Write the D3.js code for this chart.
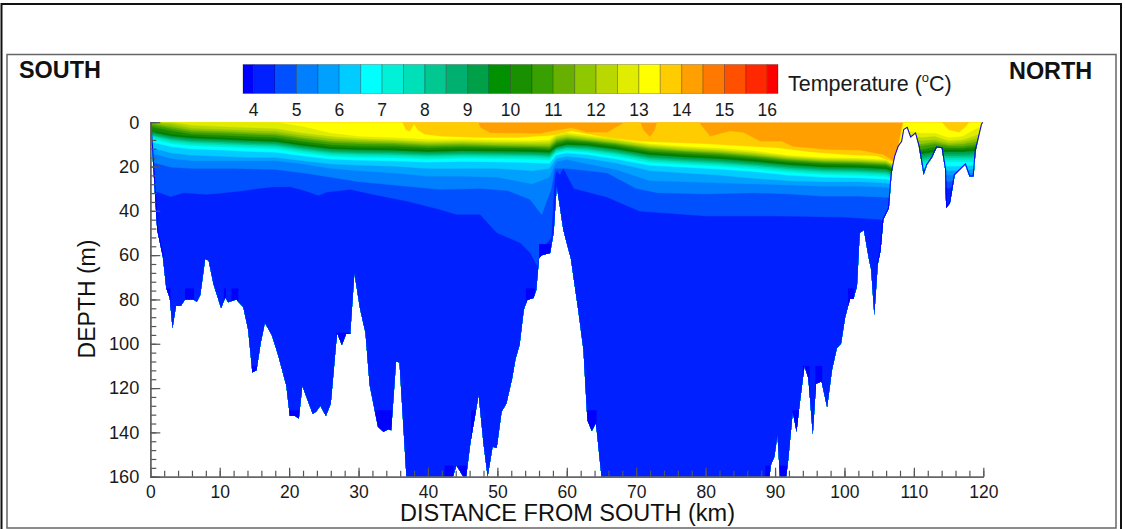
<!DOCTYPE html>
<html>
<head>
<meta charset="utf-8">
<script src="https://cdn.jsdelivr.net/npm/d3@7"></script>
<style>
body { margin: 0; background: #fff; }
svg { display: block; font-family: "Liberation Sans", Arial, sans-serif; }
</style>
</head>
<body>
<svg width="1125" height="529"></svg>
<script>
// section stations (km from south)
var stations = [0,3,6,10,14,18,22,26,30,35,40,45,50,55,57.5,58.5,60,63,67,72,77,82,87,92,97,102,106,107.5,109,111,113,115,117,119,120];

// the warm and deep isotherms wiggle more, so they get their own stations
var iso14Km = [0,47.2,47.6,49,53,56.1,58.5,60.7,62.9,65.8,68.2,69.1,70.6,71,72,72.7,73,79,80.65,83.5,85.5,87.9,91,92.5,97.5,102.3,105.6,107.3,108.4,120];
var iso14   = [0,0,2.6,4.9,5,5.2,3.7,2.6,4.6,4.6,0.4,0,0,3.5,6.7,3.5,0,0,6.4,4.1,4.8,8.7,8.7,11,12.4,12.8,14.7,18,0,0];
var iso135Km = [0,36.3,36.8,37.4,38,38.5,39.5,42,47,53,58,60.7,65.8,70.5,80,85,90.3,95,99.9,104.7,107.3,108.5,114,115,116.5,117.5,118,120];
var iso135   = [0,0,3.5,4.2,1,3.5,5.5,6.5,7,7,6,4.1,7,8.7,9.8,10.7,11.7,13.5,14.7,15.4,18.5,0,0,3.5,4.6,2,0,0];

var iso13  = [0,0,0,0,0,0,2,5,6.5,7,7.8,7.8,8.2,8.4,8,5.5,4.8,6,7.5,9.8,11,11.8,13,15,16,16.3,16.9,19.5,4,5,5,7,6.5,3,2];
var iso125 = [0,0,1.5,2,2.5,3,5,6.5,7.5,8,8.8,8.6,9,9.2,9,6.5,5.7,6.8,8.2,10.5,11.7,12.5,13.8,15.6,16.6,16.9,17.5,20,5,7,6.5,8.5,8,6,5];
var iso12  = [0,0.8,2.8,3.3,3.8,4.2,6,7.5,8.3,8.7,9.5,9.3,9.7,9.9,10,7.4,6.5,7.5,8.9,11.2,12.4,13.2,14.5,16.2,17.2,17.5,18.1,20.5,6.5,8.5,8,9.5,9,7.5,6];
var iso115 = [0.5,2,3.8,4.2,4.8,5.2,7,8.5,9,9.4,10.2,10,10.4,10.6,10.8,8.1,7.2,8.1,9.5,11.8,13,13.8,15.1,16.7,17.7,18,18.6,21,8,10,9,10.3,10,8.8,7.5];
var iso11  = [1,3,4.6,5,5.6,6,7.8,9.3,9.8,10.1,10.9,10.6,11,11.2,11.4,8.8,7.8,8.6,10,12.4,13.5,14.3,15.6,17.2,18.2,18.5,19.1,21.4,9.5,11,10,11,11,10,9];
var iso105 = [2,4,5.5,6,6.6,7,8.8,10.3,10.8,11,11.7,11.3,11.6,11.8,12.2,9.6,8.5,9.2,10.6,13.2,14.2,15,16.3,17.8,18.8,19.1,19.7,21.8,11,12.5,11.3,11.8,11.8,11,10];
var iso10  = [3.5,5.5,6.5,7,7.6,8,9.8,11.3,11.8,12,12.6,12.2,12.4,12.6,13,10.5,9.4,9.9,11.4,14,15,15.8,17,18.5,19.5,19.8,20.4,22.3,12,13.5,12.5,12.5,12.5,12,11];
var iso95  = [4.3,6.3,7.3,7.8,8.4,8.8,10.6,12.1,12.6,12.8,13.4,13,13.2,13.4,13.8,11.3,10.2,10.6,12.2,14.8,15.8,16.6,17.8,19.3,20.3,20.6,21.2,23,13,14.5,13.5,13.5,13.5,13,12];
var iso9   = [5,7,8,8.5,9.1,9.5,11.3,12.8,13.3,13.5,14.1,13.7,13.9,14.1,14.5,11.8,10.8,11.2,12.8,15.6,16.6,17.4,18.6,20,21,21.3,21.9,23.6,14,15.5,14.5,14.5,14.5,14,13];
var iso85  = [5.5,7.6,8.6,9.1,9.7,10.1,11.9,13.4,13.9,14.1,14.7,14.3,14.5,14.7,15.1,12.3,11.3,11.8,13.4,16.2,17.2,18,19.2,20.6,21.6,21.9,22.5,24.1,15,16.5,15.3,15.3,15.3,15,14];
var iso8   = [6,8.2,9.2,9.7,10.3,10.7,12.5,14,14.5,14.7,15.3,14.9,15.1,15.3,15.7,12.8,11.8,12.4,14,16.8,17.8,18.6,19.8,21.2,22.2,22.5,23.1,24.7,16,17.5,16,16,16,16,15];
var iso75  = [6.6,8.9,9.9,10.4,11,11.4,13.2,14.7,15.2,15.4,16,15.6,15.8,16,16.4,13.3,12.4,13,14.7,17.5,18.5,19.3,20.5,21.9,22.9,23.2,23.8,25.3,17,18.5,17,17,17,17,16];
var iso7   = [7.4,9.7,10.7,11.2,11.8,12.2,14,15.5,16,16.2,16.8,16.4,16.6,16.8,17.2,13.9,13,13.7,15.5,18.3,19.2,20,21.2,22.7,23.7,24,24.6,26,18,19.5,18,18,18,18,17];
var iso65  = [9,11.2,12.2,12.7,13.3,13.7,15.4,16.8,17.3,17.6,18.2,17.9,18.1,18.4,18.8,15,14,14.8,16.7,19.6,20.5,21.3,22.5,24,25,25.3,25.9,27.3,20,21,19.5,20,20,19.5,19];
var iso6   = [11.5,14,15,15.5,16,16,17.5,19,19.5,20,21,21,21,22,21,16.5,15.5,16.5,18.5,22,23,24,25.5,26.5,27,27,27.5,29,22,22.5,21,22,22,21,21];
var iso55  = [14,16.5,17.5,17.5,17.5,17.5,19,21,22,23,24.5,24.5,25,28,25,18,17,19,21.5,26.5,27,27.5,28,28.5,29,29,29.5,31,24,24,23,24,23.5,23,23];
var iso5Km = [0,3,6,12,18,22,26,30,35,41.7,47.5,51.5,54.7,56.4,57.8,58.3,60,63,65.8,70,73,80,87,92,97,102,106,107.5,109,111,113,115,117,119,120];
var iso5   = [18,20.5,21,21,21.5,23,25,27,28.5,30.5,30,31,35,42,30,21,21,22,23,30,32,32.5,32,32.5,33.5,33.5,34,35,26,25,25,27,25,25,25];
var iso45Km = [0,1.4,2.9,4.8,8.1,12.9,15.3,17.7,20.1,22.5,24.2,25.4,28.8,32.1,37,41.7,44.1,47.5,49.9,53.3,54.7,55.7,56.4,57.8,58.3,58.55,59,59.5,61,65.8,70.5,80,90,100,105,107.5,109,111,113,115,117,119,120];
var iso45   = [31,32,33.8,32,32.8,31.3,30.2,29.4,29.3,31.3,33.2,31.7,30.5,32.8,35.8,39.5,41.8,41.8,50,54.6,59,65,57.6,52,25,22,24,21,30,34,40.3,42.5,42.5,43,44,46,30,27,27,30,27,27,27];

var isotherms = [iso14,iso135,iso13,iso125,iso12,iso115,iso11,iso105,iso10,iso95,iso9,iso85,iso8,iso75,iso7,iso65,iso6,iso55,iso5,iso45];
var isoStations = [iso14Km,iso135Km,stations,stations,stations,stations,stations,stations,stations,stations,stations,stations,stations,stations,stations,stations,stations,stations,iso5Km,iso45Km];

// colour of each band, warm to cold, first one is the surface fill
var surfaceColor = '#ffa000';
var isoColors = ['#ffcc00','#ffff00','#e0ec00','#b8d800','#90c800','#68b000','#38a000','#188800','#007e00','#00a048','#00b070','#00c890','#00e0b8','#00f0d8','#00ffff','#00ccff','#00a0ff','#0080ff','#0050ff','#0020ff'];
var coldColor = '#0000ff';

// legend
var legendEdges = [3.75,4,4.5,5,5.5,6,6.5,7,7.5,8,8.5,9,9.5,10,10.5,11,11.5,12,12.5,13,13.5,14,14.5,15,15.5,16,16.25];
var legendColors = ['#0000ff','#0020ff','#0050ff','#0080ff','#00a0ff','#00ccff','#00ffff','#00f0d8','#00e0b8','#00c890','#00b070','#00a048','#009000','#189000','#38a000','#68b000','#90c800','#b8d800','#e0ec00','#ffff00','#ffcc00','#ffa000','#ff7800','#ff5000','#ff2800','#ff0000'];
var legendTicks = [4,5,6,7,8,9,10,11,12,13,14,15,16];

// sea floor
var bottomKm = [0,0.1,1,1.8,2.3,2.8,3.2,3.7,4.4,5,6.2,6.7,7.2,7.9,8.4,9.1,10.2,10.8,11.2,12.4,13.4,14.1,14.7,15.3,15.9,16.5,17.5,18.4,19.6,20.1,20.8,21.4,21.9,23.4,23.9,24.5,25.3,26,26.9,27.6,28.2,28.8,29.4,30.2,31,31.6,32.8,33.6,34.3,34.7,35.4,35.9,36.9,43.6,44.1,45.1,45.5,46.1,47.3,48,48.6,49.3,49.9,50.6,51.3,52.1,52.6,53.2,53.8,54.3,55.2,55.6,56,56.4,57.6,58.1,58.55,59.5,60.6,61.7,62.4,62.9,63,63.6,64.2,65,89.2,89.4,89.9,90.35,90.7,91.6,91.9,92.55,93.1,93.5,94.24,94.8,95.44,95.9,96.7,97.5,98.2,98.9,99.5,100.1,100.8,101.3,101.8,102.2,102.8,103.5,103.85,104.3,104.8,105.2,105.6,106.4,106.8,107.3,107.8,108.3,108.6,109,109.5,110.2,110.7,111.4,111.9,112.6,113.3,114,114.5,114.65,115.2,115.9,117.4,118,118.6,118.9,119.8,120];
var bottomDepth = [0,4,48.6,60.6,75,79.4,93,83,83,80,80,81,78,61.7,62.4,73,84,79,81.3,80,83.5,93.7,113,112,99.8,90.5,96,105,119,132.6,132.5,133.7,119,131.7,130.6,128,132.6,127,95,100.6,95.6,95.6,68,84,95,118.6,137.4,139.7,138.6,139,108,108.5,160,160,154.8,160,160,145,123,145,160,146.5,147,130.7,127,116,107,100.5,84.7,80.2,79.4,75.7,61.4,60,59,50,28.7,48.6,61.8,86,102.8,130.7,134.7,139.4,135.7,160,160,154.7,151,141,160,160,152.4,130.7,139.7,128.4,110,115.6,141,118,117,128.7,111.8,102,100,88,79.8,79.8,74,50,48.6,61.4,66.6,87,64,58,44,38.8,23,15.4,11,8.7,3.4,2.6,7,5.2,11,23.7,19.2,16,11.4,11.7,21.4,38.8,36.5,23.7,19.2,24.5,24.5,13,1,0];

// pockets colder than 4 C near the floor
var coldStart = [2.2,5,10.6,11.7,14.6,19.5,26.8,32.2,46.2,54.1,56,62.8,42.4,44,88.6,90.6,92.5,94,95.8,100.5];
var coldEnd   = [2.9,6.3,10.9,12.7,15.4,21.5,28.9,34.9,47,55.4,57.7,64.3,43.7,45.6,89.3,91.8,93.6,95,96.8,101.4];
var coldTop   = [75,75,75,75,110,130,95,130,130,75,55,130,155,155,155,155,130,110,110,75];

var yTicks = [0,20,40,60,80,100,120,140,160];
var xTicks = [0,10,20,30,40,50,60,70,80,90,100,110,120];

var svg = d3.select('svg');
var scaleX = d3.scaleLinear().domain([0, 120]).range([150.3, 983.3]);
var scaleY = d3.scaleLinear().domain([0, 160]).range([122.2, 476.7]);
var scaleLegend = d3.scaleLinear().domain([3.75, 16.25]).range([243, 778]);

// page frame
svg.append('rect').attr('x',1.5).attr('y',4).attr('width',1119.5).attr('height',530)
    .attr('fill','none').attr('stroke','#111').attr('stroke-width',2);
svg.append('rect').attr('x',7).attr('y',54.5).attr('width',1109).attr('height',473.5)
    .attr('fill','#fff').attr('stroke','#666').attr('stroke-width',1.5);

// clip to the water column
var defs = svg.append('defs');
var water = d3.area()
    .x(function (d) { return scaleX(d.km); })
    .y0(scaleY(0))
    .y1(function (d) { return scaleY(d.depth); });
var bottomData = bottomKm.map(function (k, i) { return {km: k, depth: bottomDepth[i]}; });
defs.append('clipPath').attr('id','waterClip')
    .append('path').attr('d', water(bottomData));

var plot = svg.append('g').attr('clip-path','url(#waterClip)');
plot.append('rect')
    .attr('x',scaleX(0)).attr('y',scaleY(0))
    .attr('width',scaleX(120)-scaleX(0)).attr('height',scaleY(160)-scaleY(0))
    .attr('fill',surfaceColor);

// each band fills from its isotherm down, colder ones paint over warmer ones
plot.selectAll('path.band')
    .data(isotherms)
    .enter()
    .append('path')
    .attr('class','band')
    .attr('d',function (d, i) {
        var km = isoStations[i];
        return d3.area()
            .x(function (v, j) { return scaleX(km[j]); })
            .y0(scaleY(160))
            .y1(function (v) { return scaleY(v); })(d);
    })
    .attr('fill',function (d, i) { return isoColors[i]; })
    .attr('stroke',function (d, i) { return isoColors[i]; })
    .attr('stroke-width',0.3);

plot.selectAll('rect.cold')
    .data(coldStart)
    .enter()
    .append('rect')
    .attr('class','cold')
    .attr('x',function (d) { return scaleX(d); })
    .attr('y',function (d, i) { return scaleY(coldTop[i]); })
    .attr('width',function (d, i) { return scaleX(coldEnd[i]) - scaleX(d); })
    .attr('height',function (d, i) { return scaleY(160) - scaleY(coldTop[i]); })
    .attr('fill',coldColor);

// thin cold rim along the floor
var floorLine = d3.line()
    .x(function (d) { return scaleX(d.km); })
    .y(function (d) { return scaleY(d.depth); });
plot.append('path')
    .attr('d',floorLine(bottomData.filter(function (d) { return d.km <= 1.8; })))
    .attr('fill','none').attr('stroke',coldColor).attr('stroke-width',2);
plot.append('path')
    .attr('d',floorLine(bottomData.filter(function (d) { return d.km >= 104.8; })))
    .attr('fill','none').attr('stroke',coldColor).attr('stroke-width',2);

// axes
function styleAxis(g) {
    g.select('.domain').attr('stroke','#666').attr('stroke-width',1.5);
    g.selectAll('.tick line').attr('stroke','#555').attr('stroke-width',1.2);
    g.selectAll('text').attr('fill','#1a1a1a').attr('font-family','"Liberation Sans", Arial, sans-serif');
}

svg.append('g')
    .attr('transform','translate(0,' + scaleY(160) + ')')
    .call(d3.axisBottom(scaleX).tickValues(d3.range(0,121,2)).tickSize(-6).tickFormat('').tickSizeOuter(0))
    .call(styleAxis);
svg.append('g')
    .attr('transform','translate(0,' + scaleY(160) + ')')
    .call(d3.axisBottom(scaleX).tickValues(xTicks).tickSizeInner(-9).tickSizeOuter(0).tickPadding(9).tickFormat(d3.format('d')))
    .call(styleAxis)
    .call(function (g) { g.selectAll('text').attr('font-size',17.5); });
svg.append('g')
    .attr('transform','translate(' + scaleX(0) + ',0)')
    .call(d3.axisLeft(scaleY).tickValues(d3.range(0,161,4)).tickSize(-6).tickFormat('').tickSizeOuter(0))
    .call(styleAxis);
svg.append('g')
    .attr('transform','translate(' + scaleX(0) + ',0)')
    .call(d3.axisLeft(scaleY).tickValues(yTicks).tickSizeInner(-10).tickSizeOuter(0).tickPadding(11).tickFormat(d3.format('d')))
    .call(styleAxis)
    .call(function (g) { g.selectAll('text').attr('font-size',18.2); });

svg.append('text')
    .attr('x',567.5).attr('y',521)
    .attr('text-anchor','middle')
    .attr('font-size',23.5)
    .attr('fill','#111')
    .text('DISTANCE FROM SOUTH (km)');
svg.append('text')
    .attr('transform','translate(95,299) rotate(270)')
    .attr('text-anchor','middle')
    .attr('font-size',23)
    .attr('fill','#111')
    .text('DEPTH (m)');

svg.append('text').attr('x',19).attr('y',78)
    .attr('font-size',23.4).attr('font-weight','bold').attr('fill','#111').text('SOUTH');
svg.append('text').attr('x',1009).attr('y',79)
    .attr('font-size',23.4).attr('font-weight','bold').attr('fill','#111').text('NORTH');

// colour legend
var legend = svg.append('g');
legend.selectAll('rect')
    .data(legendColors)
    .enter()
    .append('rect')
    .attr('x',function (d, i) { return scaleLegend(legendEdges[i]); })
    .attr('y',64.5)
    .attr('width',function (d, i) { return scaleLegend(legendEdges[i+1]) - scaleLegend(legendEdges[i]); })
    .attr('height',29)
    .attr('fill',function (d) { return d; })
    .attr('stroke','#000')
    .attr('stroke-opacity',0.25)
    .attr('stroke-width',1);
legend.selectAll('text')
    .data(legendTicks)
    .enter()
    .append('text')
    .attr('x',function (d) { return scaleLegend(d); })
    .attr('y',115.5)
    .attr('text-anchor','middle')
    .attr('font-size',17.5)
    .attr('fill','#1a1a1a')
    .text(function (d) { return d; });

var legendTitle = svg.append('text').attr('x',788).attr('y',91).attr('font-size',21.5).attr('fill','#1a1a1a');
legendTitle.append('tspan').text('Temperature (');
legendTitle.append('tspan').attr('font-size',13).attr('dy',-9).text('o');
legendTitle.append('tspan').attr('dy',9).text('C)');
</script>
</body>
</html>
